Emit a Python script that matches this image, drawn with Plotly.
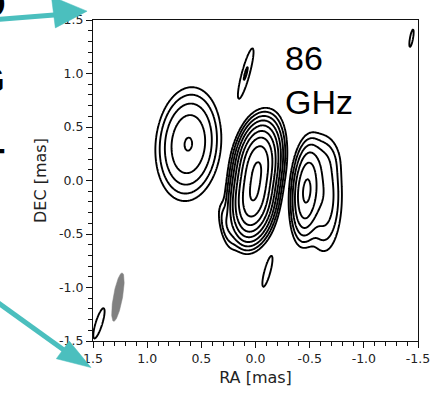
import numpy as np
import plotly.graph_objects as go

# Gaussian model components of the 86 GHz map (flux in units of the lowest contour)
comp_ra = [0.021, -0.021, -0.07, 0.27, 0.62, -0.47, -0.63, -0.60, 0.09, -0.11, -1.44, 1.445]
comp_dec = [-0.16, 0.14, 0.26, -0.42, 0.34, -0.10, -0.14, 0.20, 1.00, -0.85, 1.33, -1.335]
comp_flux = [230.0, 230.0, 4.0, 2.6, 16.6, 36.0, 7.0, 1.8, 2.1, 1.3, 1.6, 1.3]
comp_maj = [0.38, 0.38, 0.44, 0.30, 0.53, 0.46, 0.62, 0.26, 0.47, 0.48, 0.20, 0.48]
comp_min = [0.185, 0.185, 0.20, 0.09, 0.30, 0.14, 0.20, 0.24, 0.07, 0.09, 0.035, 0.10]
comp_pa = [-8.0, -8.0, -15.0, 12.0, -5.0, -4.0, 0.0, 0.0, -15.0, -15.0, -10.0, -17.0]

# Restoring beam (RA, DEC centre, FWHM major / minor, position angle)
beam_ra, beam_dec = 1.27, -1.09
beam_maj, beam_min, beam_pa = 0.46, 0.085, -10.0

# Contour levels: lowest contour times powers of two
n_levels = 9

tick_vals = [1.5, 1.0, 0.5, 0.0, -0.5, -1.0, -1.5]
tick_text = ["1.5", "1.0", "0.5", "0.0", "-0.5", "-1.0", "-1.5"]

# --- build the model image --------------------------------------------------
grid = np.linspace(-1.5, 1.5, 501)
RA, DEC = np.meshgrid(grid, grid)
img = np.zeros_like(RA)
fwhm = 2.0 * np.sqrt(2.0 * np.log(2.0))
for ra, dec, f, bmaj, bmin, pa in zip(comp_ra, comp_dec, comp_flux,
                                      comp_maj, comp_min, comp_pa):
    th = np.deg2rad(pa)
    dx, dy = RA - ra, DEC - dec
    u = dx * np.sin(th) + dy * np.cos(th)
    v = dx * np.cos(th) - dy * np.sin(th)
    img += f * np.exp(-0.5 * ((u / (bmaj / fwhm)) ** 2 + (v / (bmin / fwhm)) ** 2))
zlog = np.round(np.log2(np.maximum(img, 1e-6)), 3)

fig = go.Figure()
fig.add_trace(go.Contour(
    x=grid, y=grid, z=zlog,
    contours=dict(start=0, end=n_levels - 1, size=1, coloring="lines"),
    colorscale=[[0, "black"], [1, "black"]],
    line=dict(width=1.9), showscale=False, hoverinfo="skip",
))

# beam ellipse
t = np.linspace(0, 2 * np.pi, 120)
thb = np.deg2rad(beam_pa)
a, b = beam_maj / 2, beam_min / 2
bx = beam_ra + a * np.cos(t) * np.sin(thb) + b * np.sin(t) * np.cos(thb)
by = beam_dec + a * np.cos(t) * np.cos(thb) - b * np.sin(t) * np.sin(thb)
fig.add_trace(go.Scatter(x=bx, y=by, mode="lines", fill="toself",
                         fillcolor="#808080", line=dict(color="#808080", width=0.5),
                         hoverinfo="skip", showlegend=False))

W, H = 442, 406
L, R, T, B = 93, 21, 15, 65


def px(xp):
    return (xp - L) / (W - L - R)


def py(yp):
    return (H - B - yp) / (H - T - B)


teal = "#4bbfbe"
shapes = []
# arrow shafts
for (x0, y0, x1, y1) in [(-3, 14.5, 60, 9.5), (-3, 302, 66, 352)]:
    shapes.append(dict(type="line", xref="paper", yref="paper",
                       x0=px(x0), y0=py(y0), x1=px(x1), y1=py(y1),
                       line=dict(color=teal, width=5)))
# arrow heads
for pts in [[(51, -9), (55, 23), (87, 6)], [(56, 359), (69, 341), (91, 368)]]:
    path = "M " + " L ".join(f"{px(x)},{py(y)}" for x, y in pts) + " Z"
    shapes.append(dict(type="path", xref="paper", yref="paper", path=path,
                       fillcolor=teal, line=dict(color=teal, width=0.5)))

annotations = [
    dict(text="86<br>GHz", x=px(285), y=py(32), xref="paper", yref="paper",
         xanchor="left", yanchor="top", align="left", showarrow=False,
         font=dict(family="Liberation Sans, Arial", size=34, color="black")),
]
# slide lettering running in from the left edge
for txt, xr, yc in [("D", 7, -1), ("G", 6, 76), ("T", 6, 160)]:
    annotations.append(dict(text=f"<b>{txt}</b>", x=px(xr), y=py(yc),
                            xref="paper", yref="paper", xanchor="right",
                            yanchor="middle", showarrow=False,
                            font=dict(family="Liberation Sans, Arial", size=37,
                                      color="black")))

axis_common = dict(
    tickmode="array", tickvals=tick_vals, ticktext=tick_text,
    ticks="outside", ticklen=6, tickwidth=1.2, tickcolor="#111",
    showline=True, mirror=True, linecolor="#111", linewidth=1.3,
    showgrid=False, zeroline=False,
    tickfont=dict(family="DejaVu Sans", size=12.5, color="#222"),
    minor=dict(tick0=0, dtick=0.1, ticks="outside", ticklen=3.5,
               tickwidth=1, tickcolor="#111", showgrid=False),
)

fig.update_layout(
    width=W, height=H, margin=dict(l=L, r=R, t=T, b=B),
    paper_bgcolor="white", plot_bgcolor="white", showlegend=False,
    xaxis=dict(range=[1.5, -1.5], title=dict(text="RA [mas]", standoff=6,
               font=dict(family="DejaVu Sans", size=16, color="#222")),
               **axis_common),
    yaxis=dict(range=[-1.5, 1.5], title=dict(text="DEC [mas]", standoff=8,
               font=dict(family="DejaVu Sans", size=16, color="#222")),
               **axis_common),
    shapes=shapes, annotations=annotations,
)

fig.write_html("out.html")
